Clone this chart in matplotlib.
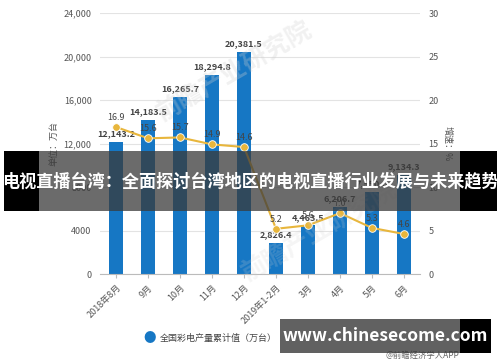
import matplotlib
matplotlib.use("Agg")
import matplotlib.pyplot as plt
from matplotlib.patches import Rectangle

plt.rcParams['font.family'] = ['Noto Sans CJK SC', 'DejaVu Sans']

# data
months = ["2018年8月", "9月", "10月", "11月", "12月",
          "2019年1-2月", "3月", "4月", "5月", "6月"]
output = [12143.2, 14183.5, 16265.7, 18294.8, 20381.5,
          2826.4, 4463.5, 6206.7, 7550.0, 9134.3]
growth = [16.9, 15.6, 15.7, 14.9, 14.6, 5.2, 5.6, 7.0, 5.3, 4.6]
left_ticks = [0, 4000, 8000, 12000, 16000, 20000, 24000]
left_labels = ["0", "4000", "8000", "12,000", "16,000", "20,000", "24,000"]
right_ticks = [0, 5, 10, 15, 20, 25, 30]

bar_color = "#1677c4"
line_color = "#e8b63c"
text_gray = "#555555"

fig = plt.figure(figsize=(5.0, 3.62), dpi=100)
ax = fig.add_axes([0.2, 0.243, 0.64, 0.721])
ax2 = ax.twinx()

x = list(range(len(months)))
ax.bar(x, output, width=0.45, color=bar_color, zorder=2)
ax.set_ylim(0, 24000)
ax.set_xlim(-0.5, len(months) - 0.5)
ax.set_yticks(left_ticks)
ax.set_yticklabels(left_labels)
ax.yaxis.grid(True, color="#e3e3e3", linewidth=0.8, zorder=0)
ax.set_axisbelow(True)
for s in ["top", "right", "left"]:
    ax.spines[s].set_visible(False)
    ax2.spines[s].set_visible(False)
ax2.spines["bottom"].set_visible(False)
ax.spines["bottom"].set_color("#bbbbbb")
ax.tick_params(axis="y", length=0, labelsize=6.5, labelcolor=text_gray, pad=6)
ax.tick_params(axis="x", length=3, color="#bbbbbb", labelsize=6.5, labelcolor=text_gray)
ax.set_xticks(x)
ax.set_xticklabels(months, rotation=45, ha="right", rotation_mode="anchor")
ax.set_ylabel("单位：万台", fontsize=6.5, color=text_gray, labelpad=4)

for xi, v in zip(x, output):
    ax.text(xi, v + 350, f"{v:,.1f}", ha="center", va="bottom",
            fontsize=6.5, fontweight="bold", color="#444444", zorder=5)

ax2.plot(x, growth, color=line_color, linewidth=1.5, marker="o", markersize=5.5,
         markerfacecolor=line_color, markeredgecolor="white", markeredgewidth=0.6, zorder=4)
ax2.set_ylim(0, 30)
ax2.set_yticks(right_ticks)
ax2.tick_params(axis="y", length=0, labelsize=6.5, labelcolor=text_gray, pad=6)
ax2.set_ylabel("增速：%", fontsize=6.5, color=text_gray, rotation=270, labelpad=10)
for xi, g in zip(x, growth):
    ax2.text(xi, g + 0.6, f"{g:.1f}", ha="center", va="bottom",
             fontsize=6.5, color="#444444", zorder=6)

# faint watermark
fig.text(0.47, 0.80, "前瞻产业研究院", fontsize=18, color="#d0d0d0", alpha=0.3,
         rotation=30, ha="center", va="center", fontweight="bold")
fig.text(0.64, 0.36, "前瞻产业研究院", fontsize=18, color="#d0d0d0", alpha=0.2,
         rotation=30, ha="center", va="center", fontweight="bold")

# legend row
fig.text(0.30, 0.066, "●", fontsize=9, color=bar_color, ha="center", va="center")
fig.text(0.32, 0.066, "全国彩电产量累计值（万台）", fontsize=6.5, color="#444444",
         ha="left", va="center")
fig.text(0.77, 0.018, "@前瞻经济学人APP", fontsize=6, color="#666666",
         ha="left", va="center")

# title banner across the middle
fig.patches.append(Rectangle((0.008, 0.417), 0.07, 0.166, transform=fig.transFigure,
                             facecolor="black", edgecolor="none", zorder=10))
fig.patches.append(Rectangle((0.078, 0.417), 0.842, 0.166, transform=fig.transFigure,
                             facecolor="#3a3a3a", alpha=0.75, edgecolor="none", zorder=10))
fig.patches.append(Rectangle((0.92, 0.417), 0.074, 0.166, transform=fig.transFigure,
                             facecolor="black", edgecolor="none", zorder=10))
fig.text(0.5, 0.5, "电视直播台湾：全面探讨台湾地区的电视直播行业发展与未来趋势",
         fontsize=12.3, fontweight="bold", color="white", ha="center", va="center", zorder=11)

# site banner bottom right
fig.patches.append(Rectangle((0.56, 0.025), 0.36, 0.094, transform=fig.transFigure,
                             facecolor="#3a3a3a", alpha=0.8, edgecolor="none", zorder=10))
fig.patches.append(Rectangle((0.92, 0.025), 0.062, 0.094, transform=fig.transFigure,
                             facecolor="black", edgecolor="none", zorder=10))
fig.text(0.771, 0.072, "www.chinesecome.com", fontsize=12.5, fontweight="bold",
         color="white", ha="center", va="center", zorder=11)

fig.savefig("out.png", dpi=100)
